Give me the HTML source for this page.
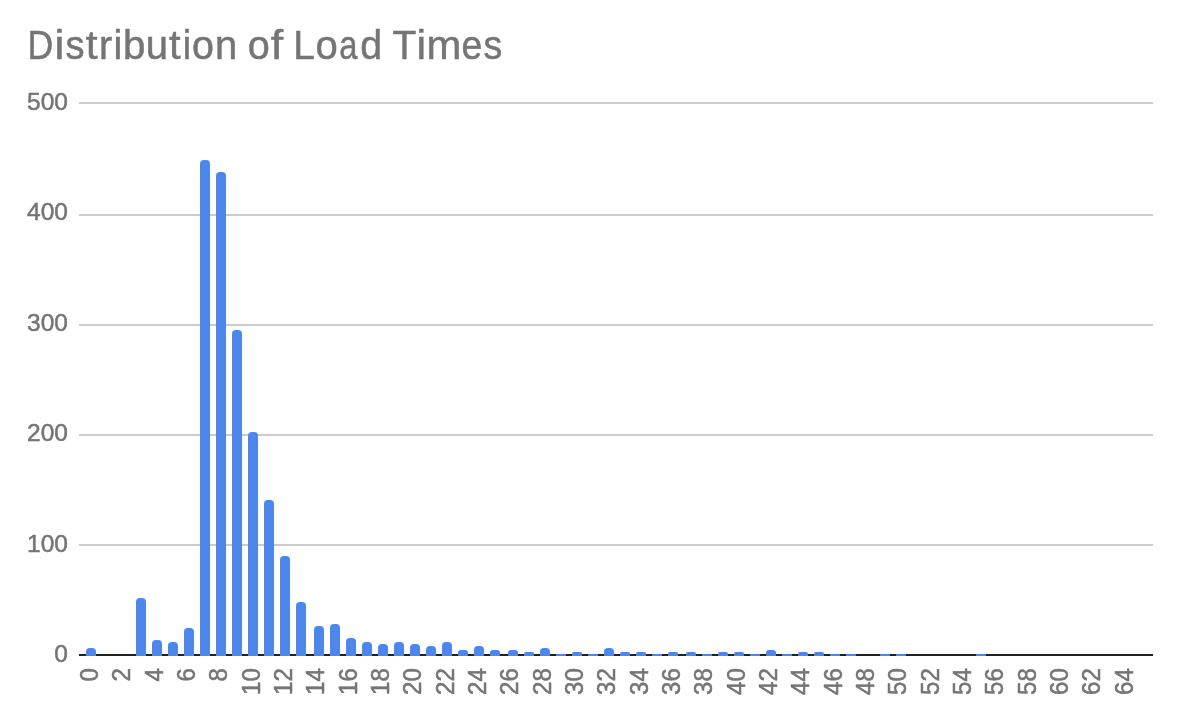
<!DOCTYPE html>
<html><head><meta charset="utf-8"><title>Distribution of Load Times</title>
<style>
html,body{margin:0;padding:0;background:#fff;}
body{width:1184px;height:720px;overflow:hidden;font-family:"Liberation Sans",sans-serif;}
svg{display:block;will-change:transform;}
text{font-family:"Liberation Sans",sans-serif;fill:#757575;stroke:#757575;stroke-width:0.5px;}
</style></head><body>
<svg width="1184" height="720" viewBox="0 0 1184 720">
<rect width="1184" height="720" fill="#ffffff"/>

<g font-size="40" style="stroke-width:0.9px"><text transform="translate(27.43 58.6) scale(0.891 1.035)">D</text><text transform="translate(54.38 58.6) scale(1.109 1.035)">i</text><text transform="translate(65.49 58.6) scale(0.952 1.035)">s</text><text transform="translate(85.80 58.6) scale(1.067 1.035)">t</text><text transform="translate(99.02 58.6) scale(0.990 1.035)">r</text><text transform="translate(113.49 58.6) scale(0.996 1.035)">i</text><text transform="translate(122.96 58.6) scale(1.006 1.035)">b</text><text transform="translate(145.75 58.6) scale(1.000 1.035)">u</text><text transform="translate(169.02 58.6) scale(1.047 1.035)">t</text><text transform="translate(182.84 58.6) scale(0.939 1.035)">i</text><text transform="translate(192.00 58.6) scale(0.985 1.035)">o</text><text transform="translate(214.89 58.6) scale(1.000 1.035)">n</text> <text transform="translate(247.69 58.6) scale(0.990 1.035)">o</text><text transform="translate(270.82 58.6) scale(1.113 1.035)">f</text> <text transform="translate(293.37 58.6) scale(0.970 1.035)">L</text><text transform="translate(315.47 58.6) scale(1.001 1.035)">o</text><text transform="translate(339.16 58.6) scale(0.818 1.035)">a</text><text transform="translate(360.20 58.6) scale(0.984 1.035)">d</text> <text transform="translate(392.57 58.6) scale(0.977 1.035)">T</text><text transform="translate(416.56 58.6) scale(1.081 1.035)">i</text><text transform="translate(426.57 58.6) scale(1.045 1.035)">m</text><text transform="translate(461.47 58.6) scale(0.932 1.035)">e</text><text transform="translate(483.51 58.6) scale(0.935 1.035)">s</text></g>
<rect x="79" y="102" width="1074" height="2" fill="#cccccc"/>
<rect x="79" y="214" width="1074" height="2" fill="#cccccc"/>
<rect x="79" y="324" width="1074" height="2" fill="#cccccc"/>
<rect x="79" y="434" width="1074" height="2" fill="#cccccc"/>
<rect x="79" y="544" width="1074" height="2" fill="#cccccc"/>
<g font-size="24.5" text-anchor="end">
<text x="68" y="110.3">500</text>
<text x="68" y="220.3">400</text>
<text x="68" y="331.3">300</text>
<text x="68" y="441.3">200</text>
<text x="68" y="552.1">100</text>
<text x="68" y="662.3">0</text>
</g>
<rect x="79" y="654" width="1074" height="2" fill="#212121"/>
<g fill="#4e87ec">
<path d="M86 656V652 a4 4 0 0 1 4 -4 h2 a4 4 0 0 1 4 4 V656z"/>
<path d="M136 656V602 a4 4 0 0 1 4 -4 h2 a4 4 0 0 1 4 4 V656z"/>
<path d="M152 656V644 a4 4 0 0 1 4 -4 h2 a4 4 0 0 1 4 4 V656z"/>
<path d="M168 656V646 a4 4 0 0 1 4 -4 h2 a4 4 0 0 1 4 4 V656z"/>
<path d="M184 656V632 a4 4 0 0 1 4 -4 h2 a4 4 0 0 1 4 4 V656z"/>
<path d="M200 656V164 a4 4 0 0 1 4 -4 h2 a4 4 0 0 1 4 4 V656z"/>
<path d="M216 656V176 a4 4 0 0 1 4 -4 h2 a4 4 0 0 1 4 4 V656z"/>
<path d="M232 656V334 a4 4 0 0 1 4 -4 h2 a4 4 0 0 1 4 4 V656z"/>
<path d="M248 656V436 a4 4 0 0 1 4 -4 h2 a4 4 0 0 1 4 4 V656z"/>
<path d="M264 656V504 a4 4 0 0 1 4 -4 h2 a4 4 0 0 1 4 4 V656z"/>
<path d="M280 656V560 a4 4 0 0 1 4 -4 h2 a4 4 0 0 1 4 4 V656z"/>
<path d="M296 656V606 a4 4 0 0 1 4 -4 h2 a4 4 0 0 1 4 4 V656z"/>
<path d="M314 656V630 a4 4 0 0 1 4 -4 h2 a4 4 0 0 1 4 4 V656z"/>
<path d="M330 656V628 a4 4 0 0 1 4 -4 h2 a4 4 0 0 1 4 4 V656z"/>
<path d="M346 656V642 a4 4 0 0 1 4 -4 h2 a4 4 0 0 1 4 4 V656z"/>
<path d="M362 656V646 a4 4 0 0 1 4 -4 h2 a4 4 0 0 1 4 4 V656z"/>
<path d="M378 656V648 a4 4 0 0 1 4 -4 h2 a4 4 0 0 1 4 4 V656z"/>
<path d="M394 656V646 a4 4 0 0 1 4 -4 h2 a4 4 0 0 1 4 4 V656z"/>
<path d="M410 656V648 a4 4 0 0 1 4 -4 h2 a4 4 0 0 1 4 4 V656z"/>
<path d="M426 656V650 a4 4 0 0 1 4 -4 h2 a4 4 0 0 1 4 4 V656z"/>
<path d="M442 656V646 a4 4 0 0 1 4 -4 h2 a4 4 0 0 1 4 4 V656z"/>
<path d="M458 656V653 a3 3 0 0 1 3 -3 h4 a3 3 0 0 1 3 3 V656z"/>
<path d="M474 656V650 a4 4 0 0 1 4 -4 h2 a4 4 0 0 1 4 4 V656z"/>
<path d="M490 656V653 a3 3 0 0 1 3 -3 h4 a3 3 0 0 1 3 3 V656z"/>
<path d="M508 656V653 a3 3 0 0 1 3 -3 h4 a3 3 0 0 1 3 3 V656z"/>
<path d="M524 656V654 a2 2 0 0 1 2 -2 h6 a2 2 0 0 1 2 2 V656z"/>
<path d="M540 656V652 a4 4 0 0 1 4 -4 h2 a4 4 0 0 1 4 4 V656z"/>
<path d="M556 656V655 a1 1 0 0 1 1 -1 h8 a1 1 0 0 1 1 1 V656z"/>
<path d="M572 656V654 a2 2 0 0 1 2 -2 h6 a2 2 0 0 1 2 2 V656z"/>
<path d="M588 656V655 a1 1 0 0 1 1 -1 h8 a1 1 0 0 1 1 1 V656z"/>
<path d="M604 656V652 a4 4 0 0 1 4 -4 h2 a4 4 0 0 1 4 4 V656z"/>
<path d="M620 656V654 a2 2 0 0 1 2 -2 h6 a2 2 0 0 1 2 2 V656z"/>
<path d="M636 656V654 a2 2 0 0 1 2 -2 h6 a2 2 0 0 1 2 2 V656z"/>
<path d="M652 656V655 a1 1 0 0 1 1 -1 h8 a1 1 0 0 1 1 1 V656z"/>
<path d="M668 656V654 a2 2 0 0 1 2 -2 h6 a2 2 0 0 1 2 2 V656z"/>
<path d="M686 656V654 a2 2 0 0 1 2 -2 h6 a2 2 0 0 1 2 2 V656z"/>
<path d="M702 656V655 a1 1 0 0 1 1 -1 h8 a1 1 0 0 1 1 1 V656z"/>
<path d="M718 656V654 a2 2 0 0 1 2 -2 h6 a2 2 0 0 1 2 2 V656z"/>
<path d="M734 656V654 a2 2 0 0 1 2 -2 h6 a2 2 0 0 1 2 2 V656z"/>
<path d="M750 656V655 a1 1 0 0 1 1 -1 h8 a1 1 0 0 1 1 1 V656z"/>
<path d="M766 656V653 a3 3 0 0 1 3 -3 h4 a3 3 0 0 1 3 3 V656z"/>
<path d="M782 656V655 a1 1 0 0 1 1 -1 h8 a1 1 0 0 1 1 1 V656z"/>
<path d="M798 656V654 a2 2 0 0 1 2 -2 h6 a2 2 0 0 1 2 2 V656z"/>
<path d="M814 656V654 a2 2 0 0 1 2 -2 h6 a2 2 0 0 1 2 2 V656z"/>
<path d="M830 656V655 a1 1 0 0 1 1 -1 h8 a1 1 0 0 1 1 1 V656z"/>
<path d="M846 656V655 a1 1 0 0 1 1 -1 h8 a1 1 0 0 1 1 1 V656z"/>
<path d="M880 656V655 a1 1 0 0 1 1 -1 h8 a1 1 0 0 1 1 1 V656z"/>
<path d="M896 656V655 a1 1 0 0 1 1 -1 h8 a1 1 0 0 1 1 1 V656z"/>
<path d="M976 656V655 a1 1 0 0 1 1 -1 h8 a1 1 0 0 1 1 1 V656z"/>
</g>
<g font-size="24" text-anchor="end">
<text transform="translate(97.9 668.2) rotate(-90) scale(1 1.04)">0</text>
<text transform="translate(130.2 668.2) rotate(-90) scale(1 1.04)">2</text>
<text transform="translate(162.6 668.2) rotate(-90) scale(1 1.04)">4</text>
<text transform="translate(194.9 668.2) rotate(-90) scale(1 1.04)">6</text>
<text transform="translate(227.3 668.2) rotate(-90) scale(1 1.04)">8</text>
<text transform="translate(259.6 668.2) rotate(-90) scale(1 1.04)">10</text>
<text transform="translate(291.9 668.2) rotate(-90) scale(1 1.04)">12</text>
<text transform="translate(324.3 668.2) rotate(-90) scale(1 1.04)">14</text>
<text transform="translate(356.6 668.2) rotate(-90) scale(1 1.04)">16</text>
<text transform="translate(389.0 668.2) rotate(-90) scale(1 1.04)">18</text>
<text transform="translate(421.3 668.2) rotate(-90) scale(1 1.04)">20</text>
<text transform="translate(453.6 668.2) rotate(-90) scale(1 1.04)">22</text>
<text transform="translate(486.0 668.2) rotate(-90) scale(1 1.04)">24</text>
<text transform="translate(518.3 668.2) rotate(-90) scale(1 1.04)">26</text>
<text transform="translate(550.7 668.2) rotate(-90) scale(1 1.04)">28</text>
<text transform="translate(583.0 668.2) rotate(-90) scale(1 1.04)">30</text>
<text transform="translate(615.3 668.2) rotate(-90) scale(1 1.04)">32</text>
<text transform="translate(647.7 668.2) rotate(-90) scale(1 1.04)">34</text>
<text transform="translate(680.0 668.2) rotate(-90) scale(1 1.04)">36</text>
<text transform="translate(712.4 668.2) rotate(-90) scale(1 1.04)">38</text>
<text transform="translate(744.7 668.2) rotate(-90) scale(1 1.04)">40</text>
<text transform="translate(777.0 668.2) rotate(-90) scale(1 1.04)">42</text>
<text transform="translate(809.4 668.2) rotate(-90) scale(1 1.04)">44</text>
<text transform="translate(841.7 668.2) rotate(-90) scale(1 1.04)">46</text>
<text transform="translate(874.1 668.2) rotate(-90) scale(1 1.04)">48</text>
<text transform="translate(906.4 668.2) rotate(-90) scale(1 1.04)">50</text>
<text transform="translate(938.7 668.2) rotate(-90) scale(1 1.04)">52</text>
<text transform="translate(971.1 668.2) rotate(-90) scale(1 1.04)">54</text>
<text transform="translate(1003.4 668.2) rotate(-90) scale(1 1.04)">56</text>
<text transform="translate(1035.8 668.2) rotate(-90) scale(1 1.04)">58</text>
<text transform="translate(1068.1 668.2) rotate(-90) scale(1 1.04)">60</text>
<text transform="translate(1100.4 668.2) rotate(-90) scale(1 1.04)">62</text>
<text transform="translate(1132.8 668.2) rotate(-90) scale(1 1.04)">64</text>
</g>
</svg></body></html>
